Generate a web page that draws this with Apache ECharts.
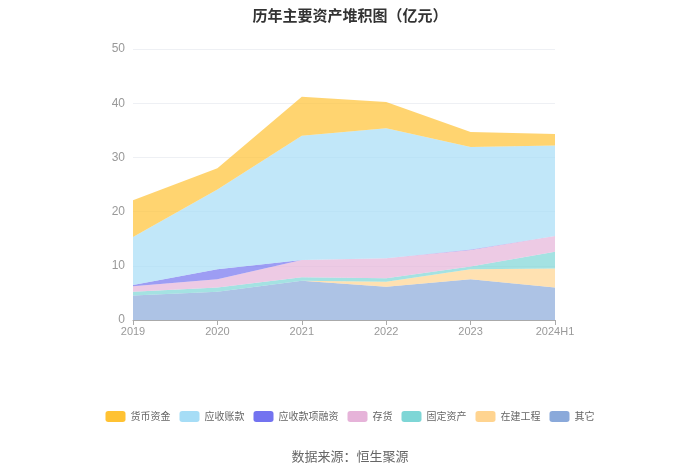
<!DOCTYPE html>
<html><head><meta charset="utf-8">
<script src="https://cdn.jsdelivr.net/npm/echarts@6/dist/echarts.min.js"></script>
<style>html,body{margin:0;padding:0;background:#fff}#c{width:700px;height:473px}</style>
</head><body><div id="c"></div>
<script>
var categories = ['2019','2020','2021','2022','2023','2024H1'];
var yTicks = [0,10,20,30,40,50];
var names = ['货币资金','应收账款','应收款项融资','存货','固定资产','在建工程','其它'];
var huobi   = [6.8, 3.9, 7.2, 4.8, 2.8, 2.1];
var yingshou= [8.85, 14.75, 22.95, 24.0, 18.9, 16.7];
var rongzi  = [0.2, 1.85, 0, 0, 0.1, 0];
var cunhuo  = [1.05, 1.5, 3.15, 3.7, 3.05, 2.9];
var guding  = [0.7, 0.8, 0.65, 0.65, 0.5, 3.1];
var zaijian = [0, 0, 0, 0.9, 1.85, 3.5];
var qita    = [4.5, 5.2, 7.25, 6.15, 7.5, 6.0];

var colors = {'货币资金':'#FFC233','应收账款':'#A6DDF6','应收款项融资':'#7373F0','存货':'#E6B3D9','固定资产':'#7ED6D6','在建工程':'#FFD490','其它':'#8AA9DA'};
var dataMap = {'货币资金':huobi,'应收账款':yingshou,'应收款项融资':rongzi,'存货':cunhuo,'固定资产':guding,'在建工程':zaijian,'其它':qita};
var order = names.slice().reverse();
var series = order.map(function(n){
  return {name:n,type:'line',stack:'total',data:dataMap[n],symbol:'none',smooth:false,
    lineStyle:{width:0,color:colors[n]},itemStyle:{color:colors[n]},
    areaStyle:{color:colors[n],opacity:0.7}};
});
var chart = echarts.init(document.getElementById('c'));
chart.setOption({
  animation:false,
  color: order.map(function(n){return colors[n];}),
  title:{text:'历年主要资产堆积图（亿元）',left:'center',top:3,textStyle:{fontSize:15,fontWeight:'bold',color:'#333',fontFamily:'Noto Sans CJK SC'}},
  legend:{data:names,top:406,left:'center',itemWidth:20,itemHeight:11,itemGap:9,icon:'roundRect',
    textStyle:{fontSize:10,color:'#666',fontFamily:'Noto Sans CJK SC'}},
  graphic:[{type:'text',left:'center',top:450,style:{text:'数据来源：恒生聚源',fontSize:13,fill:'#666',fontFamily:'Noto Sans CJK SC'}}],
  grid:{left:133,right:145,top:49,bottom:153},
  xAxis:{type:'category',data:categories,boundaryGap:false,
    axisLine:{lineStyle:{color:'#aaa'}},axisTick:{show:true,lineStyle:{color:'#aaa'}},
    axisLabel:{color:'#999',fontSize:11,margin:6}},
  yAxis:{type:'value',min:0,max:50,interval:10,
    axisLine:{show:false},axisTick:{show:false},
    axisLabel:{color:'#999',fontSize:12,margin:8},
    splitLine:{lineStyle:{color:'#eef0f4'}}},
  series:series
});
</script></body></html>
